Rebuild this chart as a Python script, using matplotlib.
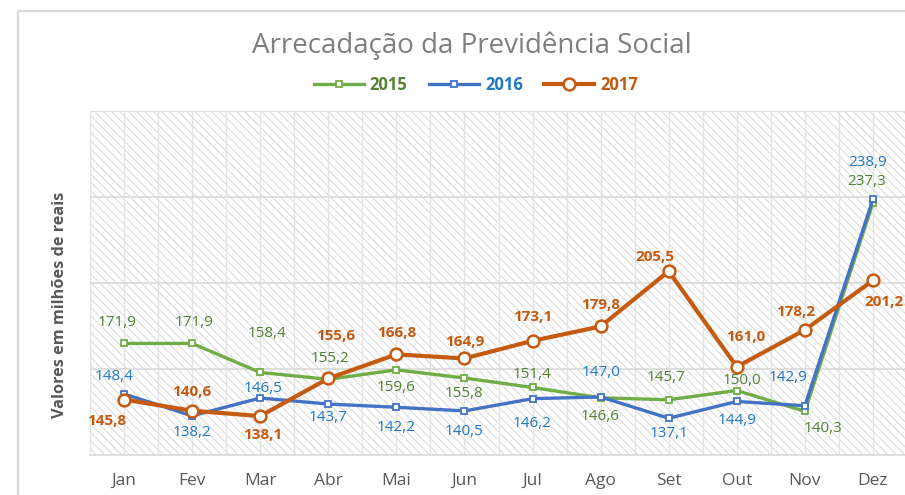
import matplotlib
matplotlib.use("Agg")
import matplotlib.pyplot as plt
from matplotlib.patches import Rectangle

# Monthly collection, in millions of reais
meses = ["Jan", "Fev", "Mar", "Abr", "Mai", "Jun", "Jul", "Ago", "Set", "Out", "Nov", "Dez"]
v2015 = [171.9, 171.9, 158.4, 155.2, 159.6, 155.8, 151.4, 146.6, 145.7, 150.0, 140.3, 237.3]
v2016 = [148.4, 138.2, 146.5, 143.7, 142.2, 140.5, 146.2, 147.0, 137.1, 144.9, 142.9, 238.9]
v2017 = [145.8, 140.6, 138.1, 155.6, 166.8, 164.9, 173.1, 179.8, 205.5, 161.0, 178.2, 201.2]

# label offsets in pixels (dx, dy) relative to each point
off2015 = [(-7, 21), (2, 21), (7, 39), (2, 21), (0, -18), (0, -15), (0, 13), (0, -19),
           (-3, 22), (5, 10), (18, -17), (-6, 21)]
off2016 = [(-10, 17), (0, -17), (3, 10), (0, -13), (0, -20), (0, -21), (0, -25), (0, 24),
           (0, -15), (0, -19), (-17, 28), (-5, 37)]
off2017 = [(-17, -21), (0, 19), (3, -19), (7, 42), (0, 21), (0, 16), (0, 24), (0, 21),
           (-14, 14), (9, 30), (-9, 18), (11, -22)]

plt.rcParams["font.family"] = ["Open Sans", "DejaVu Sans"]
plt.rcParams["hatch.color"] = "#d9d9d9"
plt.rcParams["hatch.linewidth"] = 0.7

fig = plt.figure(figsize=(9.05, 4.95), dpi=100)
ax = fig.add_axes([90 / 905, 1 - 455 / 495, 817 / 905, 344 / 495])

# chart frame
fig.patches.append(Rectangle((18 / 905, -0.2), 1.2, 1.2 - 11 / 495, transform=fig.transFigure,
                             fill=False, edgecolor="#d9d9d9", linewidth=1.6))

# hatched plot area
ax.add_patch(Rectangle((0, 0), 1, 1, transform=ax.transAxes, fill=False,
                       hatch="\\\\\\\\", edgecolor="#d9d9d9", linewidth=0, zorder=0))

x = list(range(len(meses)))
ax.set_xlim(-0.5, 11.5)
ax.set_ylim(120, 280)
ax.set_yticks([160, 200, 240, 280])
ax.set_xticks(x)
ax.set_xticklabels(meses)
ax.set_xticks([i - 0.5 for i in range(13)], minor=True)
ax.grid(axis="y", color="#d9d9d9", linewidth=1.2, zorder=1)
ax.grid(axis="x", which="both", color="#e3e3e3", linewidth=1.0, zorder=1)
ax.tick_params(axis="y", left=False, labelleft=False)
ax.tick_params(axis="x", which="both", length=0, labelsize=12.5, labelcolor="#595959", pad=13)
for s in ["top", "right", "left"]:
    ax.spines[s].set_visible(False)
ax.spines["bottom"].set_color("#d9d9d9")
ax.spines["bottom"].set_linewidth(1.2)
ax.set_axisbelow(True)

series = [
    ("2015", v2015, off2015, "#70ad47", "#548235", "s", 4, 2.4, "normal"),
    ("2016", v2016, off2016, "#4472c4", "#1f78c8", "s", 4, 2.4, "normal"),
    ("2017", v2017, off2017, "#c55a11", "#c55a11", "o", 8.5, 3.0, "bold"),
]
for name, vals, offs, lc, tc, mk, ms, lw, fw in series:
    ax.plot(x, vals, color=lc, linewidth=lw, marker=mk, markersize=ms,
            markerfacecolor="white", markeredgecolor=lc, markeredgewidth=1.8 if mk == "o" else 1.3,
            label=name, zorder=3)
    for xi, v, (dx, dy) in zip(x, vals, offs):
        ax.annotate(f"{v:.1f}".replace(".", ","), (xi, v), xytext=(dx, dy),
                    textcoords="offset pixels", ha="center", va="center",
                    fontsize=11, color=tc, fontweight=fw, zorder=4, annotation_clip=False)

fig.text(0.521, 1 - 46 / 495, "Arrecadação da Previdência Social", ha="center", va="center",
         fontsize=20, color="#7f7f7f")

leg = fig.legend(loc="center", bbox_to_anchor=(0.526, 1 - 85 / 495), ncol=3, frameon=False,
                 handlelength=3.0, handletextpad=0.35, columnspacing=1.3,
                 prop={"size": 12, "weight": "bold"})
for t, c in zip(leg.get_texts(), ["#548235", "#1f78c8", "#c55a11"]):
    t.set_color(c)

fig.text(60 / 905, 1 - 305 / 495, "Valores em milhões de reais", rotation=90, ha="center",
         va="center", fontsize=11.7, fontweight="bold", color="#595959")

fig.savefig("out.png", dpi=100, facecolor="white")
